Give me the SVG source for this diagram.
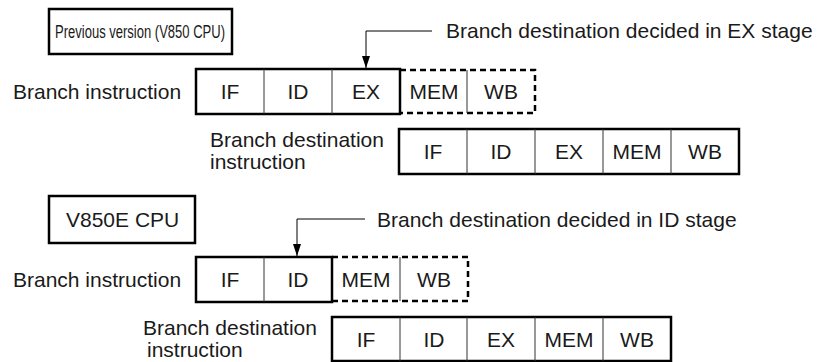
<svg xmlns="http://www.w3.org/2000/svg" width="817" height="362" viewBox="0 0 817 362">
<style>
text{font-family:"Liberation Sans",Arial,sans-serif;font-size:21px;fill:#1a1a1a}
.c{text-anchor:middle}
.box{fill:none;stroke:#000;stroke-width:2.5}
.div{stroke:#333;stroke-width:1}
.dash{fill:none;stroke:#000;stroke-width:2.5;stroke-dasharray:6 4}
.conn{fill:none;stroke:#000;stroke-width:1}
</style>
<defs>
<marker id="ah" markerWidth="12" markerHeight="8" refX="12" refY="4" orient="auto" markerUnits="userSpaceOnUse" viewBox="0 0 12 8">
<path d="M0,0 L12,4 L0,8 Z" fill="#000"/>
</marker>
</defs>
<rect width="817" height="362" fill="#fff"/>

<g id="label-prev">
<rect class="box" x="49" y="9" width="183" height="45"/>
<text x="55" y="38" style="font-size:18px" textLength="170" lengthAdjust="spacingAndGlyphs">Previous version (V850 CPU)</text>
</g>

<g id="note-ex">
<text x="446" y="38">Branch destination decided in EX stage</text>
</g>

<g id="row1-branch">
<text x="13" y="99">Branch instruction</text>
<path class="dash" d="M400,70 H535 V113 H400"/>
<rect class="box" x="196" y="69" width="204" height="45"/>
<line class="div" x1="264" y1="69" x2="264" y2="114"/>
<line class="div" x1="332" y1="69" x2="332" y2="114"/>
<line class="div" x1="467" y1="70" x2="467" y2="113"/>
<text class="c" x="230" y="99">IF</text>
<text class="c" x="298" y="99">ID</text>
<text class="c" x="366" y="99">EX</text>
<text class="c" x="434" y="99">MEM</text>
<text class="c" x="501" y="99">WB</text>
</g>

<g id="row2-dest">
<text x="210" y="147">Branch destination</text>
<text x="210" y="169">instruction</text>
<rect class="box" x="399" y="129" width="340" height="45"/>
<line class="div" x1="467" y1="129" x2="467" y2="174"/>
<line class="div" x1="535" y1="129" x2="535" y2="174"/>
<line class="div" x1="603" y1="129" x2="603" y2="174"/>
<line class="div" x1="671" y1="129" x2="671" y2="174"/>
<text class="c" x="433" y="159">IF</text>
<text class="c" x="501" y="159">ID</text>
<text class="c" x="569" y="159">EX</text>
<text class="c" x="637" y="159">MEM</text>
<text class="c" x="705" y="159">WB</text>
</g>

<g id="label-v850e">
<rect class="box" x="49" y="196" width="146" height="47"/>
<text x="66" y="227">V850E CPU</text>
</g>

<g id="note-id">
<text x="377" y="227">Branch destination decided in ID stage</text>
</g>

<g id="row3-branch">
<text x="13" y="287">Branch instruction</text>
<path class="dash" d="M332,257 H468 V301 H332"/>
<rect class="box" x="196" y="257" width="136" height="45"/>
<line class="div" x1="264" y1="257" x2="264" y2="302"/>
<line class="div" x1="400" y1="257" x2="400" y2="301"/>
<text class="c" x="230" y="287">IF</text>
<text class="c" x="298" y="287">ID</text>
<text class="c" x="366" y="287">MEM</text>
<text class="c" x="434" y="287">WB</text>
</g>

<g id="row4-dest">
<text x="143" y="335">Branch destination</text>
<text x="147" y="357">instruction</text>
<rect class="box" x="332" y="317" width="339" height="44"/>
<line class="div" x1="400" y1="317" x2="400" y2="361"/>
<line class="div" x1="467" y1="317" x2="467" y2="361"/>
<line class="div" x1="535" y1="317" x2="535" y2="361"/>
<line class="div" x1="603" y1="317" x2="603" y2="361"/>
<text class="c" x="366" y="347">IF</text>
<text class="c" x="434" y="347">ID</text>
<text class="c" x="501" y="347">EX</text>
<text class="c" x="569" y="347">MEM</text>
<text class="c" x="637" y="347">WB</text>
</g>

<g id="connectors">
<path class="conn" d="M432,31 H366 V68" marker-end="url(#ah)"/>
<path class="conn" d="M365,219 H297 V256" marker-end="url(#ah)"/>
</g>
</svg>
